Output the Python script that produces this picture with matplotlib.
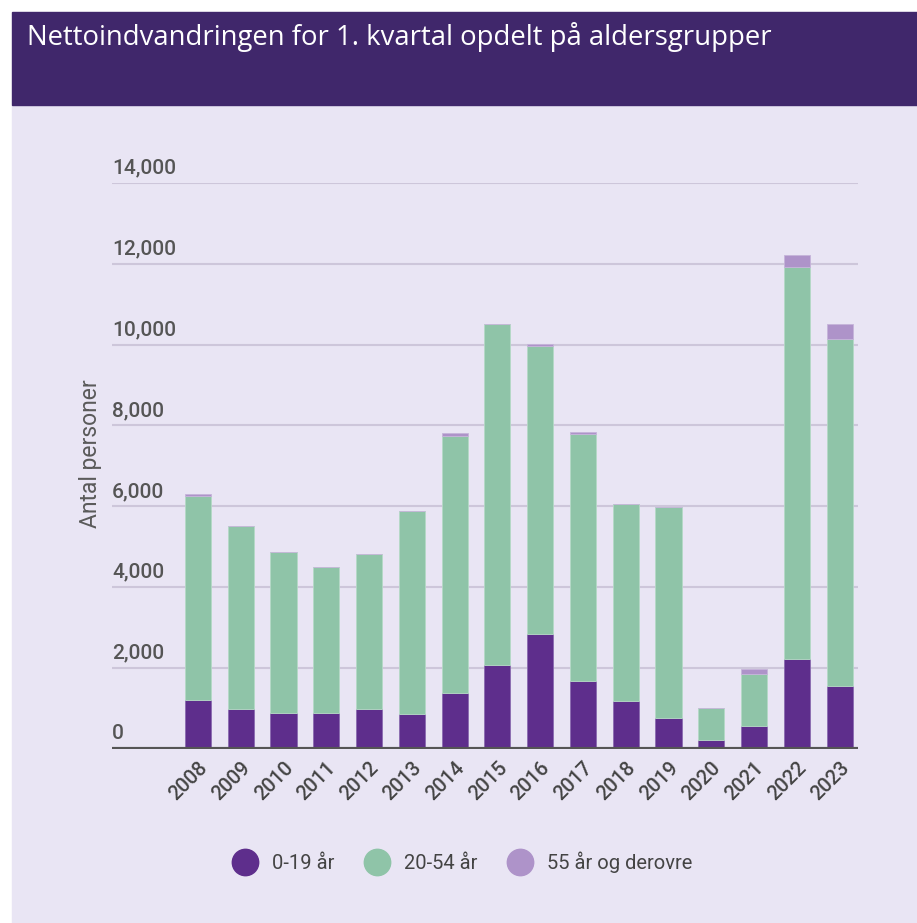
import matplotlib.pyplot as plt
from matplotlib.lines import Line2D
from matplotlib.patches import Rectangle
import numpy as np

years = ["2008", "2009", "2010", "2011", "2012", "2013", "2014", "2015",
         "2016", "2017", "2018", "2019", "2020", "2021", "2022", "2023"]
age_0_19 = [1195, 970, 880, 880, 970, 850, 1375, 2060,
            2830, 1660, 1175, 755, 200, 555, 2220, 1535]
age_20_54 = [5060, 4540, 3975, 3620, 3845, 5020, 6370, 8460,
             7145, 6130, 4890, 5225, 805, 1300, 9710, 8610]
age_55_plus = [50, 0, 0, 0, 0, 0, 60, 0,
               30, 50, 0, 0, 0, 110, 280, 370]
labels = ["0-19 år", "20-54 år", "55 år og derovre"]
y_ticks = [0, 2000, 4000, 6000, 8000, 10000, 12000, 14000]

DARK = "#5E2E8C"
GREEN = "#8FC4A8"
LIGHT = "#AE93C9"
BG = "#E9E5F4"
BANNER = "#40276B"

W, H = 917, 923
fig = plt.figure(figsize=(W / 100, H / 100), dpi=100)
fig.patch.set_facecolor("white")

# background panels
fig.add_artist(Rectangle((12 / W, 0), 1 - 12 / W, 1 - 105 / H,
                         transform=fig.transFigure, color=BG, zorder=0))
fig.add_artist(Rectangle((12 / W, 1 - 105 / H), 1 - 12 / W, 93 / H,
                         transform=fig.transFigure, color=BANNER, zorder=0))
fig.text(27 / W, 1 - 37 / H, "Nettoindvandringen for 1. kvartal opdelt på aldersgrupper",
         color="white", fontsize=19.8, family="Open Sans", va="center", ha="left")

ax = fig.add_axes([112 / W, 1 - 748.5 / H, (858 - 112) / W, (748.5 - 183) / H])
ax.set_facecolor("none")

x = np.arange(len(years))
a = np.array(age_0_19)
b = np.array(age_20_54)
c = np.array(age_55_plus)
bw = 0.61
ax.bar(x, a, bw, color=DARK, edgecolor="#8A6BB0", linewidth=0.6, zorder=3)
ax.bar(x, b, bw, bottom=a, color=GREEN, edgecolor="#B5D9C6", linewidth=0.6, zorder=3)
ax.bar(x, c, bw, bottom=a + b, color=LIGHT, edgecolor="#C6B4DA", linewidth=0.6, zorder=3)

ax.set_xlim(-2.01, 15.43)
ax.set_ylim(0, 14000)
for s in ax.spines.values():
    s.set_visible(False)

for v in y_ticks[1:]:
    ax.axhline(v, color="#CDC6DA", linewidth=1.5, zorder=1)
ax.axhline(0, color="#555555", linewidth=3, zorder=4)

ax.set_yticks(y_ticks)
ax.set_yticklabels([])
ax.tick_params(axis="y", length=0)
for v in y_ticks:
    ax.text(0, v + 130, f"{v:,}", transform=ax.get_yaxis_transform(),
            ha="left", va="bottom", fontsize=15, family="Roboto",
            fontweight="medium", color="#555555")

ax.set_xticks(x)
ax.set_xticklabels(years, rotation=45, ha="right", va="top",
                   rotation_mode="anchor", fontsize=14.5, family="Roboto",
                   fontweight="medium", color="#444444")
ax.tick_params(axis="x", length=0, pad=7)

fig.text(90 / W, 1 - 454 / H, "Antal personer", rotation=90, fontsize=16.5,
         family="Roboto", color="#5A5A5A", ha="center", va="center")

handles = [Line2D([], [], marker="o", linestyle="none", markersize=19,
                  markerfacecolor=col, markeredgecolor=col)
           for col in (DARK, GREEN, LIGHT)]
fig.legend(handles, labels, loc="center", bbox_to_anchor=(0.5, 1 - 862 / H),
           ncol=3, frameon=False, handletextpad=0.35, columnspacing=1.1,
           prop={"family": "Roboto", "size": 14.5}, labelcolor="#444444")

fig.savefig("out.png", dpi=100, facecolor=fig.get_facecolor())
